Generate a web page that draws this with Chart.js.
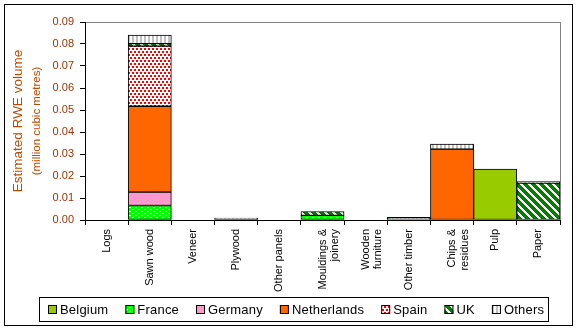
<!DOCTYPE html>
<html>
<head>
<meta charset="utf-8">
<script src="https://cdn.jsdelivr.net/npm/chart.js@4.4.1/dist/chart.umd.min.js"></script>
<style>
  html, body { margin: 0; padding: 0; background: #fff; }
</style>
</head>
<body>
<canvas id="chart" width="577" height="332"></canvas>
<script>
const categories = ['Logs', 'Sawn wood', 'Veneer', 'Plywood', 'Other panels', ['Mouldings &', 'joinery'],
  ['Wooden', 'furniture'], 'Other timber', ['Chips &', 'residues'], 'Pulp', 'Paper'];

const belgium     = [0, 0,      0, 0,      0, 0,      0, 0,      0,      0.0231, 0];
const france      = [0, 0.0066, 0, 0,      0, 0.0021, 0, 0,      0,      0,      0];
const germany     = [0, 0.0061, 0, 0,      0, 0,      0, 0,      0,      0,      0];
const netherlands = [0, 0.0390, 0, 0,      0, 0,      0, 0.0004, 0.0322, 0,      0];
const spain       = [0, 0.0273, 0, 0,      0, 0,      0, 0,      0,      0,      0];
const uk          = [0, 0.0012, 0, 0,      0, 0.0017, 0, 0,      0,      0,      0.0168];
const others      = [0, 0.0038, 0, 0.0009, 0, 0,      0, 0.0008, 0.0023, 0,      0.0007];

const yTicks = { min: 0, max: 0.09, step: 0.01 };

const FONT = '"Liberation Sans", Arial, sans-serif';
const tickBrown = '#993300';
const titleBrown = '#b84a00';

function makePattern(w, h, paint) {
  const c = document.createElement('canvas');
  c.width = w; c.height = h;
  const g = c.getContext('2d');
  paint(g, w, h);
  return g.createPattern(c, 'repeat');
}

// green with small white dashes
const franceFill = makePattern(6, 4, (g, w, h) => {
  g.fillStyle = '#00ff00'; g.fillRect(0, 0, w, h);
  g.fillStyle = '#fff';
  g.fillRect(0, 1, 2, 1);
  g.fillRect(3, 3, 2, 1);
});

// white with red dots
const spainFill = makePattern(8, 6, (g, w, h) => {
  g.fillStyle = '#fff'; g.fillRect(0, 0, w, h);
  g.fillStyle = '#ff0000';
  g.fillRect(0, 0, 2, 2);
  g.fillRect(4, 0, 2, 2);
  g.fillRect(2, 3, 2, 2);
  g.fillRect(6, 3, 2, 2);
});

// dark green with white diagonal stripes
const ukFill = makePattern(8, 8, (g, w, h) => {
  g.fillStyle = '#008000'; g.fillRect(0, 0, w, h);
  g.fillStyle = '#fff';
  for (let y = 0; y < h; y++) {
    for (let x = 0; x < w; x++) {
      if ((x - y + 8) % 8 < 3) g.fillRect(x, y, 1, 1);
    }
  }
});

// white with grey vertical stripes
const othersFill = makePattern(4, 1, (g, w, h) => {
  g.fillStyle = '#fff'; g.fillRect(0, 0, w, h);
  g.fillStyle = '#c0c0c0'; g.fillRect(0, 0, 2, h);
});

function series(label, data, fill) {
  return {
    label, data,
    backgroundColor: fill,
    borderColor: '#000',
    borderWidth: 1,
    borderSkipped: false,
    barPercentage: 1,
    categoryPercentage: 1
  };
}

const frame = {
  id: 'frame',
  beforeDraw(chart) {
    const { ctx, chartArea: a } = chart;
    ctx.save();
    ctx.fillStyle = '#fff';
    ctx.fillRect(0, 0, chart.width, chart.height);
    ctx.strokeStyle = '#000';
    ctx.lineWidth = 1;
    ctx.strokeRect(4.5, 4.5, chart.width - 9, chart.height - 11);
    ctx.strokeStyle = '#808080';
    ctx.strokeRect(a.left + 0.5, a.top + 0.5, a.right - a.left, a.bottom - a.top);
    ctx.restore();
  },
  afterDraw(chart) {
    const { ctx, chartArea: a } = chart;
    ctx.save();

    // y axis title, two lines
    ctx.translate(18, (a.top + a.bottom) / 2);
    ctx.rotate(-Math.PI / 2);
    ctx.textAlign = 'center';
    ctx.textBaseline = 'middle';
    ctx.fillStyle = titleBrown;
    ctx.font = '13.5px ' + FONT;
    ctx.fillText('Estimated RWE volume', 0, 0);
    ctx.font = '11.5px ' + FONT;
    ctx.fillText('(million cubic metres)', 0, 19);
    ctx.restore();

    // legend
    ctx.save();
    ctx.font = '13px ' + FONT;
    if ('letterSpacing' in ctx) ctx.letterSpacing = '0.2px';
    ctx.textBaseline = 'middle';
    ctx.lineWidth = 1;
    let x = 48;
    const top = 305, cy = 310;
    chart.data.datasets.forEach(ds => {
      ctx.fillStyle = ds.backgroundColor;
      ctx.fillRect(x, top, 9, 9);
      ctx.strokeStyle = '#000';
      ctx.strokeRect(x + 0.5, top + 0.5, 8, 8);
      ctx.fillStyle = '#000';
      ctx.fillText(ds.label, x + 12, cy);
      x += 12 + ctx.measureText(ds.label).width + 17;
    });
    const right = x - 17 + 4;
    ctx.strokeStyle = '#000';
    ctx.strokeRect(39.5, 297.5, Math.round(right - 39), 24);
    ctx.restore();
  }
};

new Chart(document.getElementById('chart'), {
  type: 'bar',
  data: {
    labels: categories,
    datasets: [
      series('Belgium', belgium, '#99cc00'),
      series('France', france, franceFill),
      series('Germany', germany, '#ff99cc'),
      series('Netherlands', netherlands, '#ff6600'),
      series('Spain', spain, spainFill),
      series('UK', uk, ukFill),
      series('Others', others, othersFill)
    ]
  },
  options: {
    responsive: false,
    animation: false,
    events: [],
    layout: { padding: { left: 5, right: 17, top: 22, bottom: 36 } },
    plugins: { legend: { display: false }, tooltip: { enabled: false } },
    scales: {
      x: {
        stacked: true,
        border: { color: '#000', width: 1 },
        grid: { display: true, drawOnChartArea: false, drawTicks: true, tickLength: 5, color: '#000' },
        ticks: {
          autoSkip: false, maxRotation: 90, minRotation: 90, padding: 4,
          color: '#000', font: { family: FONT, size: 11, lineHeight: 1.15 }
        },
        afterFit(s) { s.height = 76; }
      },
      y: {
        stacked: true,
        min: yTicks.min,
        max: yTicks.max,
        border: { color: '#000', width: 1 },
        grid: { display: true, drawOnChartArea: false, drawTicks: true, tickLength: 5, color: '#000' },
        ticks: {
          stepSize: yTicks.step, padding: 6, color: tickBrown,
          font: { family: FONT, size: 11 },
          callback: v => v.toFixed(2)
        },
        afterFit(s) { s.width = 80; }
      }
    }
  },
  plugins: [frame]
});
</script>
</body>
</html>
